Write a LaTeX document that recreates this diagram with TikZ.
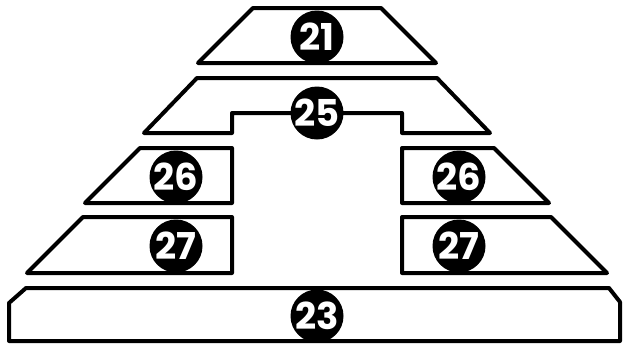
\documentclass[tikz,border=0pt]{standalone}
\usepackage{fontspec}
\setmainfont{Poppins}
\usepackage{tikz}
\usetikzlibrary{positioning}

\begin{document}
\begin{tikzpicture}[
  x=1pt, y=-1pt,
  blk/.style={draw=black, fill=white, line width=4pt, line join=round},
  num/.style={circle, fill=black, text=white, minimum size=53pt, inner sep=0pt,
              font=\fontsize{37}{37}\selectfont\bfseries}
]
\useasboundingbox (0,0) rectangle (623,346);

% Blocks
\draw[blk] (253,8) -- (381,8) -- (436,63) -- (198,63) -- cycle;
\draw[blk] (197,78) -- (437,78) -- (490,133) -- (402,133) -- (402,113)
  -- (232,113) -- (232,133) -- (144,133) -- cycle;
\draw[blk] (140,148) -- (232,148) -- (232,203) -- (85,203) -- cycle;
\draw[blk] (402,148) -- (494,148) -- (549,203) -- (402,203) -- cycle;
\draw[blk] (83,217) -- (232,217) -- (232,273) -- (27,273) -- cycle;
\draw[blk] (402,217) -- (551,217) -- (607,273) -- (402,273) -- cycle;
\draw[blk] (26,288) -- (609,288) -- (620,302) -- (620,341) -- (9,341)
  -- (9,303) -- cycle;

% Numbers
\node[num] (n21) at (317,37) {21};
\node[num] (n25) at (317,113) {25};
\node[num] (n26l) at (176,177) {26};
\node[num] (n26r) at (459,177) {26};
\node[num] (n27l) at (176,246) {27};
\node[num] (n27r) at (459,246) {27};
\node[num] (n23) at (317,316) {23};

\end{tikzpicture}
\end{document}
